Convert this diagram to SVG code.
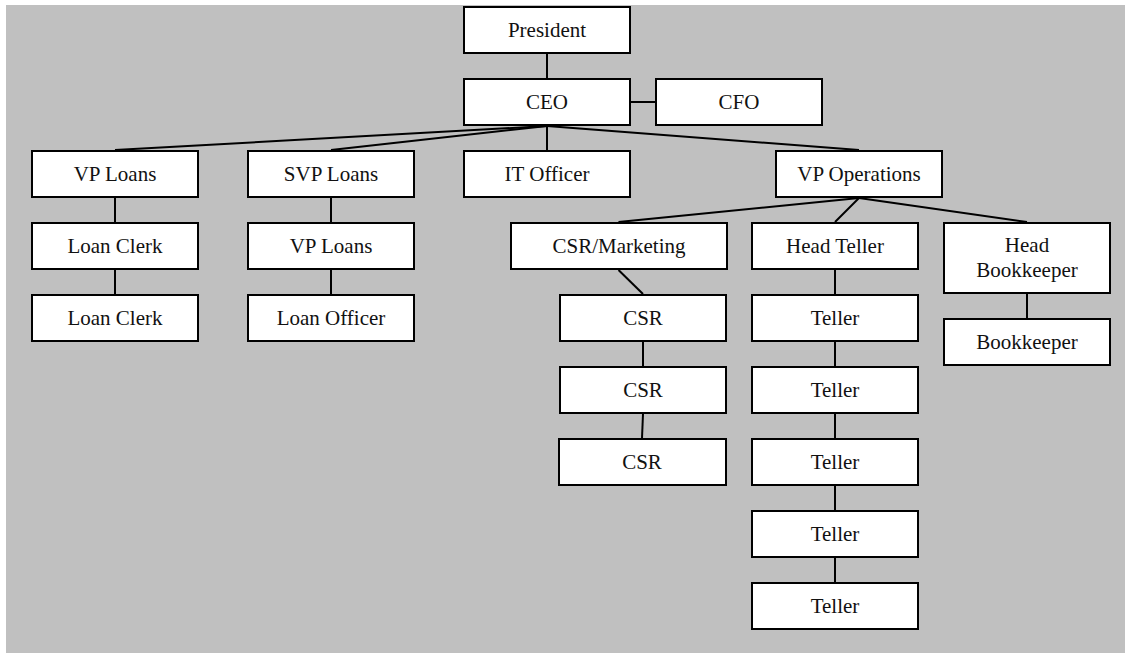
<svg xmlns="http://www.w3.org/2000/svg" width="1125" height="653" viewBox="0 0 1125 653">
  <style>
    .box { fill: #ffffff; stroke: #000000; stroke-width: 2; }
    .lbl { font-size: 21px; fill: #111111; text-anchor: middle; }
    .conn { stroke: #000000; stroke-width: 2; fill: none; }
  </style>
  <rect x="0" y="0" width="1125" height="653" fill="#ffffff"/>
  <rect x="6" y="5" width="1119" height="648" fill="#c0c0c0"/>

  <!-- connectors -->
  <g id="connectors">
    <line class="conn" x1="547" y1="54" x2="547" y2="78"/>
    <line class="conn" x1="631" y1="102" x2="655" y2="102"/>
    <line class="conn" x1="547" y1="126" x2="115" y2="150"/>
    <line class="conn" x1="547" y1="126" x2="331" y2="150"/>
    <line class="conn" x1="547" y1="126" x2="547" y2="150"/>
    <line class="conn" x1="547" y1="126" x2="859" y2="150"/>
    <line class="conn" x1="115" y1="198" x2="115" y2="222"/>
    <line class="conn" x1="115" y1="270" x2="115" y2="294"/>
    <line class="conn" x1="331" y1="198" x2="331" y2="222"/>
    <line class="conn" x1="331" y1="270" x2="331" y2="294"/>
    <line class="conn" x1="859" y1="198" x2="618.5" y2="222"/>
    <line class="conn" x1="859" y1="198" x2="835" y2="222"/>
    <line class="conn" x1="859" y1="198" x2="1027" y2="222"/>
    <line class="conn" x1="618.5" y1="270" x2="643" y2="294"/>
    <line class="conn" x1="643" y1="342" x2="643" y2="366"/>
    <line class="conn" x1="643" y1="414" x2="642" y2="438"/>
    <line class="conn" x1="835" y1="270" x2="835" y2="294"/>
    <line class="conn" x1="835" y1="342" x2="835" y2="366"/>
    <line class="conn" x1="835" y1="414" x2="835" y2="438"/>
    <line class="conn" x1="835" y1="486" x2="835" y2="510"/>
    <line class="conn" x1="835" y1="558" x2="835" y2="582"/>
    <line class="conn" x1="1027" y1="294" x2="1027" y2="318"/>
  </g>

  <g font-family="Liberation Serif, Tinos, Noto Serif, FreeSerif, Times New Roman, serif">
  <g id="president"><rect class="box" x="464" y="7" width="166" height="46"/><text class="lbl" x="547" y="37">President</text></g>
  <g id="ceo"><rect class="box" x="464" y="79" width="166" height="46"/><text class="lbl" x="547" y="109">CEO</text></g>
  <g id="cfo"><rect class="box" x="656" y="79" width="166" height="46"/><text class="lbl" x="739" y="109">CFO</text></g>

  <g id="vp-loans"><rect class="box" x="32" y="151" width="166" height="46"/><text class="lbl" x="115" y="181">VP Loans</text></g>
  <g id="svp-loans"><rect class="box" x="248" y="151" width="166" height="46"/><text class="lbl" x="331" y="181">SVP Loans</text></g>
  <g id="it-officer"><rect class="box" x="464" y="151" width="166" height="46"/><text class="lbl" x="547" y="181">IT Officer</text></g>
  <g id="vp-operations"><rect class="box" x="776" y="151" width="166" height="46"/><text class="lbl" x="859" y="181">VP Operations</text></g>

  <g id="loan-clerk-1"><rect class="box" x="32" y="223" width="166" height="46"/><text class="lbl" x="115" y="253">Loan Clerk</text></g>
  <g id="loan-clerk-2"><rect class="box" x="32" y="295" width="166" height="46"/><text class="lbl" x="115" y="325">Loan Clerk</text></g>
  <g id="vp-loans-2"><rect class="box" x="248" y="223" width="166" height="46"/><text class="lbl" x="331" y="253">VP Loans</text></g>
  <g id="loan-officer"><rect class="box" x="248" y="295" width="166" height="46"/><text class="lbl" x="331" y="325">Loan Officer</text></g>

  <g id="csr-marketing"><rect class="box" x="511" y="223" width="216" height="46"/><text class="lbl" x="619" y="253">CSR/Marketing</text></g>
  <g id="csr-1"><rect class="box" x="560" y="295" width="166" height="46"/><text class="lbl" x="643" y="325">CSR</text></g>
  <g id="csr-2"><rect class="box" x="560" y="367" width="166" height="46"/><text class="lbl" x="643" y="397">CSR</text></g>
  <g id="csr-3"><rect class="box" x="559" y="439" width="167" height="46"/><text class="lbl" x="642" y="469">CSR</text></g>

  <g id="head-teller"><rect class="box" x="752" y="223" width="166" height="46"/><text class="lbl" x="835" y="253">Head Teller</text></g>
  <g id="teller-1"><rect class="box" x="752" y="295" width="166" height="46"/><text class="lbl" x="835" y="325">Teller</text></g>
  <g id="teller-2"><rect class="box" x="752" y="367" width="166" height="46"/><text class="lbl" x="835" y="397">Teller</text></g>
  <g id="teller-3"><rect class="box" x="752" y="439" width="166" height="46"/><text class="lbl" x="835" y="469">Teller</text></g>
  <g id="teller-4"><rect class="box" x="752" y="511" width="166" height="46"/><text class="lbl" x="835" y="541">Teller</text></g>
  <g id="teller-5"><rect class="box" x="752" y="583" width="166" height="46"/><text class="lbl" x="835" y="613">Teller</text></g>

  <g id="head-bookkeeper"><rect class="box" x="944" y="223" width="166" height="70"/><text class="lbl" x="1027" y="252">Head</text><text class="lbl" x="1027" y="277">Bookkeeper</text></g>
  <g id="bookkeeper"><rect class="box" x="944" y="319" width="166" height="46"/><text class="lbl" x="1027" y="349">Bookkeeper</text></g>
  </g>
</svg>
